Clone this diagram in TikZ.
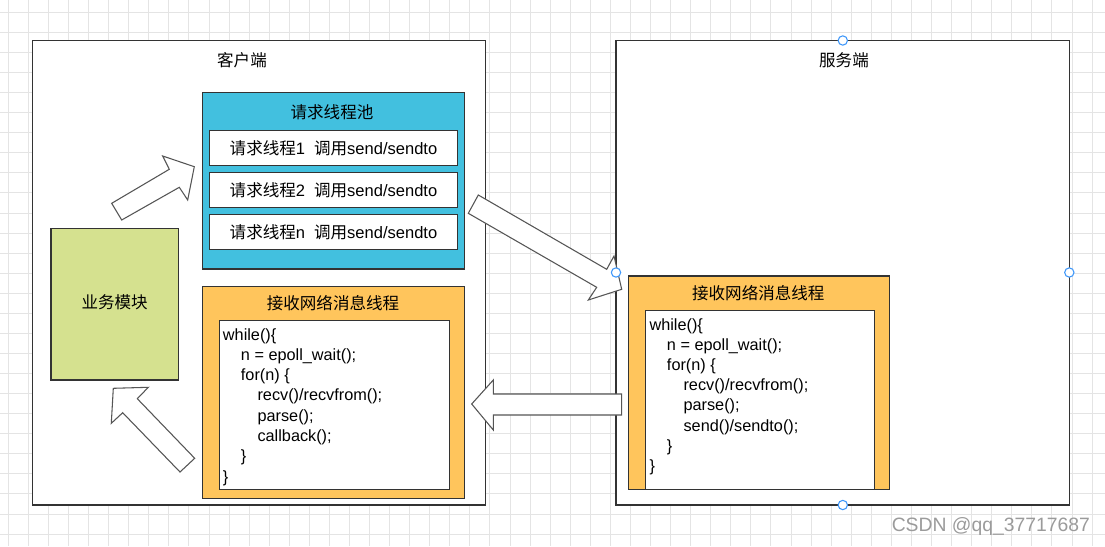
\documentclass[tikz,border=0pt]{standalone}
\usepackage{fontspec}
\setmainfont{Liberation Sans}
\newfontfamily\cjk{Noto Sans CJK SC}
\definecolor{gridc}{RGB}{228,228,228}
\definecolor{boxline}{RGB}{51,51,51}
\definecolor{arrowline}{RGB}{85,85,85}
\definecolor{poolblue}{RGB}{66,192,223}
\definecolor{throrange}{RGB}{255,197,92}
\definecolor{bizgreen}{RGB}{213,225,143}
\definecolor{handleblue}{RGB}{60,150,250}
\definecolor{wmgray}{RGB}{155,155,155}
\begin{document}
\begin{tikzpicture}[x=0.75pt,y=-0.75pt,
  gridline/.style={draw=gridc,line width=0.75pt},
  box/.style={draw=boxline,line width=0.8pt},
  blockarrow/.style={draw=arrowline,fill=white,line width=0.8pt,line join=miter},
  handle/.style={circle,draw=handleblue,fill=white,line width=0.8pt,minimum size=7pt,inner sep=0pt},
  title/.style={inner sep=0pt,font=\cjk\fontsize{12.4}{15}\selectfont,text=black},
  item/.style={inner sep=0pt,font=\fontsize{12.4}{15}\selectfont,text=black},
  code/.style={anchor=base west,inner sep=0pt,font=\fontsize{12.2}{15}\selectfont,text=black}]
\useasboundingbox (0,0) rectangle (1105,546);
\fill[white] (0,0) rectangle (1105,546);
\foreach \i in {0,...,54} \draw[gridline] ({8.3+20.07*\i},0) -- ({8.3+20.07*\i},546);
\foreach \j in {0,...,26} \draw[gridline] (0,{12.3+20.07*\j}) -- (1105,{12.3+20.07*\j});

% outer boxes
\draw[box,fill=white] (32.3,40.5) rectangle (485.3,505);
\draw[box,fill=white] (616,40.5) rectangle (1069.3,505);
\node[title] (client) at (242,60) {客户端};
\node[title] (server) at (844,60) {服务端};

% request thread pool
\draw[box,fill=poolblue] (202.7,92.3) rectangle (464.3,269);
\node[title] (pool) at (332,112) {请求线程池};
\draw[box,fill=white] (209.3,130.3) rectangle (457.7,165.3);
\draw[box,fill=white] (209.3,172.3) rectangle (457.7,207.3);
\draw[box,fill=white] (209.3,214.3) rectangle (457.7,249.3);
\node[item] (t1) at (333.5,147.8) {{\cjk 请求线程}1\hspace{0.55em}{\cjk 调用}send/sendto};
\node[item] (t2) at (333.5,189.8) {{\cjk 请求线程}2\hspace{0.55em}{\cjk 调用}send/sendto};
\node[item] (t3) at (333.5,231.8) {{\cjk 请求线程}n\hspace{0.55em}{\cjk 调用}send/sendto};

% business module
\draw[box,fill=bizgreen] (51,228.3) rectangle (178.3,380);
\node[title] (biz) at (114.6,302) {业务模块};

% client receive thread
\draw[box,fill=throrange] (202.7,286.7) rectangle (464.3,498.3);
\node[title] (crecv) at (333,303) {接收网络消息线程};
\draw[box,fill=white] (219.3,320.7) rectangle (449.3,489.3);
\node[code] (c1) at (222.7,340) {while()\{};
\node[code] (c2) at (240.7,360.3) {n = epoll\_wait();};
\node[code] (c3) at (240.7,380.6) {for(n) \{};
\node[code] (c4) at (257.3,400.9) {recv()/recvfrom();};
\node[code] (c5) at (257.3,421.2) {parse();};
\node[code] (c6) at (257.3,441.5) {callback();};
\node[code] (c7) at (240.7,461.8) {\}};
\node[code] (c8) at (222.7,482.1) {\}};

% server receive thread
\draw[box,fill=throrange] (628.7,276) rectangle (889.3,489.3);
\node[title] (srecv) at (758.3,293.3) {接收网络消息线程};
\draw[box,fill=white] (645.3,310.7) rectangle (874.3,489.3);
\node[code] (s1) at (649.3,330.5) {while()\{};
\node[code] (s2) at (666.7,350.6) {n = epoll\_wait();};
\node[code] (s3) at (666.7,370.7) {for(n) \{};
\node[code] (s4) at (683.3,390.8) {recv()/recvfrom();};
\node[code] (s5) at (683.3,410.9) {parse();};
\node[code] (s6) at (683.3,431.0) {send()/sendto();};
\node[code] (s7) at (666.7,451.1) {\}};
\node[code] (s8) at (649.3,471.2) {\}};

% block arrows
\draw[blockarrow] (111.7,203.3) -- (169.3,169.3) -- (162.7,156) -- (194.3,166.7) -- (187.7,200) -- (179.3,187.3) -- (121.7,220) -- cycle;
\draw[blockarrow] (113.3,388.3) -- (148.3,387.3) -- (137.3,398.7) -- (194.7,458.3) -- (180,472) -- (122.7,412.7) -- (111.3,423.3) -- cycle;
\draw[blockarrow] (478.3,195) -- (606.7,269.3) -- (614,256) -- (621.7,289.3) -- (588.3,300) -- (596.7,287.3) -- (468.3,213.3) -- cycle;
\draw[blockarrow] (471.7,404) -- (493.3,380) -- (493.3,394) -- (621.7,394) -- (621.7,415) -- (493.3,415) -- (493.3,430) -- cycle;

% selection handles
\node[handle] (h1) at (842.8,40.5) {};
\node[handle] (h2) at (842.8,505) {};
\node[handle] (h3) at (616,272.5) {};
\node[handle] (h4) at (1069.3,272.5) {};

% watermark
\node[anchor=west,inner sep=0pt,text=wmgray,font=\fontsize{14.5}{16}\selectfont] (wm) at (891.5,526.7) {CSDN @qq\_37717687};
\end{tikzpicture}
\end{document}
